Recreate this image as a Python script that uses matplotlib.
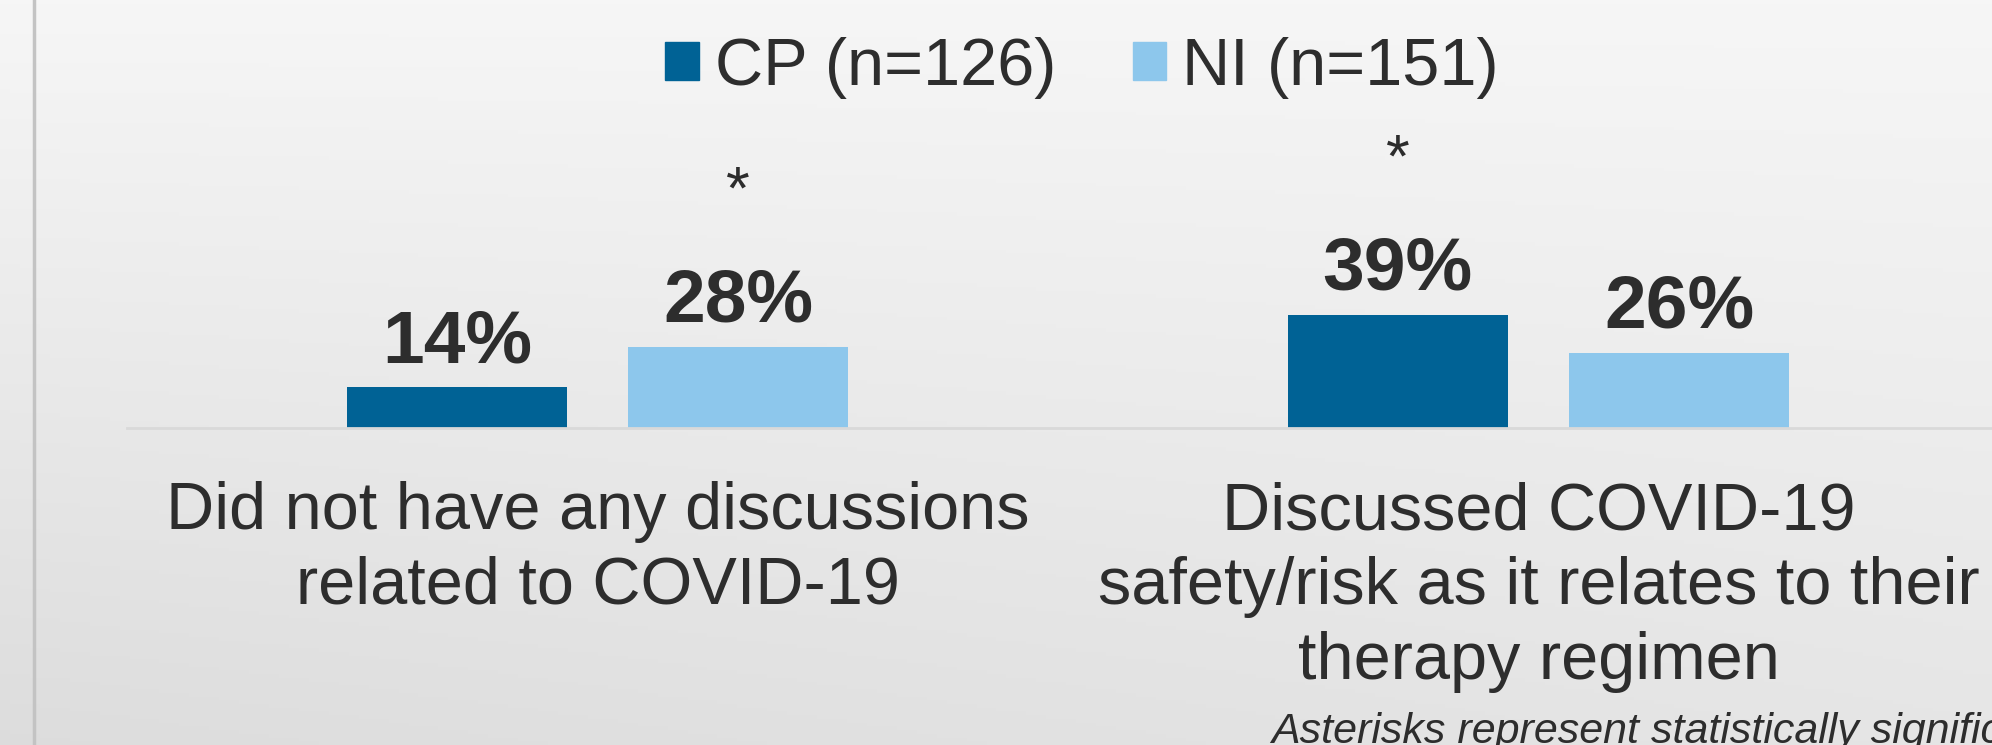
import numpy as np
import matplotlib
matplotlib.use("Agg")
import matplotlib.pyplot as plt
from matplotlib.patches import Patch

plt.rcParams['font.family'] = ['Liberation Sans', 'DejaVu Sans']

categories = ["Did not have any discussions\nrelated to COVID-19",
              "Discussed COVID-19\nsafety/risk as it relates to their\ntherapy regimen"]
series = ["CP (n=126)", "NI (n=151)"]
cp_values = [14, 39]
ni_values = [28, 26]
cp_signif = [False, True]
ni_signif = [True, False]
footnote = "Asterisks represent statistically significant differences"

CP_COLOR = "#006295"
NI_COLOR = "#8dc7ec"
TEXT = "#2d2d2d"

W, H = 1992, 745
fig = plt.figure(figsize=(W / 100, H / 100), dpi=100)

# background gradient
bg = fig.add_axes([0, 0, 1, 1], zorder=-5)
yy, xx = np.mgrid[0:1:200j, 0:1:200j]
shade = 0.965 - 0.10 * yy + 0.035 * xx * yy
bg.imshow(np.dstack([shade] * 3), extent=[0, 1, 0, 1], origin="upper", aspect="auto")
bg.axvline(34 / W, color="#c3c3c3", lw=2.5)
bg.set_xlim(0, 1)
bg.set_ylim(0, 1)
bg.axis("off")

# main axes: baseline at y=428px, one category per 941px
ax = fig.add_axes([127 / W, (H - 428) / H, 2 * 941 / W, 428 / H])
ax.patch.set_alpha(0)
ax.set_xlim(-0.5, 1.5)
ax.set_ylim(0, 428 / 2.9)
for s in ax.spines.values():
    s.set_visible(False)
ax.set_xticks([])
ax.set_yticks([])
ax.axhline(0, color="#d9d9d9", lw=2, clip_on=False)

x = np.arange(len(categories))
bw = 0.234
off = 0.1495
b1 = ax.bar(x - off, cp_values, bw, color=CP_COLOR, label=series[0])
b2 = ax.bar(x + off, ni_values, bw, color=NI_COLOR, label=series[1])

for bars, vals, sig in [(b1, cp_values, cp_signif), (b2, ni_values, ni_signif)]:
    for rect, v, s in zip(bars, vals, sig):
        cx = rect.get_x() + rect.get_width() / 2
        ax.annotate(f"{v}%", (cx, v), xytext=(0, 25), textcoords="offset pixels",
                    ha="center", va="baseline", fontsize=54, fontweight="bold",
                    color=TEXT, annotation_clip=False)
        if s:
            ax.annotate("*", (cx, v), xytext=(0, 138), textcoords="offset pixels",
                        ha="center", va="baseline", fontsize=44, color=TEXT,
                        annotation_clip=False)

for i, lab in enumerate(categories):
    ax.annotate(lab, (i, 0), xytext=(0, -53), textcoords="offset pixels",
                ha="center", va="top", fontsize=48, color=TEXT, linespacing=1.27,
                multialignment="center", annotation_clip=False)

handles = [Patch(color=CP_COLOR), Patch(color=NI_COLOR)]
fig.legend(handles, series, loc="center", bbox_to_anchor=(1082 / W, 1 - 68 / H),
           ncol=2, frameon=False, fontsize=48, handlelength=0.5, handleheight=0.5,
           handletextpad=0.24, columnspacing=1.15, labelcolor=TEXT,
           borderpad=0, borderaxespad=0)

fig.text(1271 / W, (H - 743) / H, footnote, fontsize=31, style="italic",
         color=TEXT, va="baseline", ha="left")

fig.savefig("out.png", dpi=100)
